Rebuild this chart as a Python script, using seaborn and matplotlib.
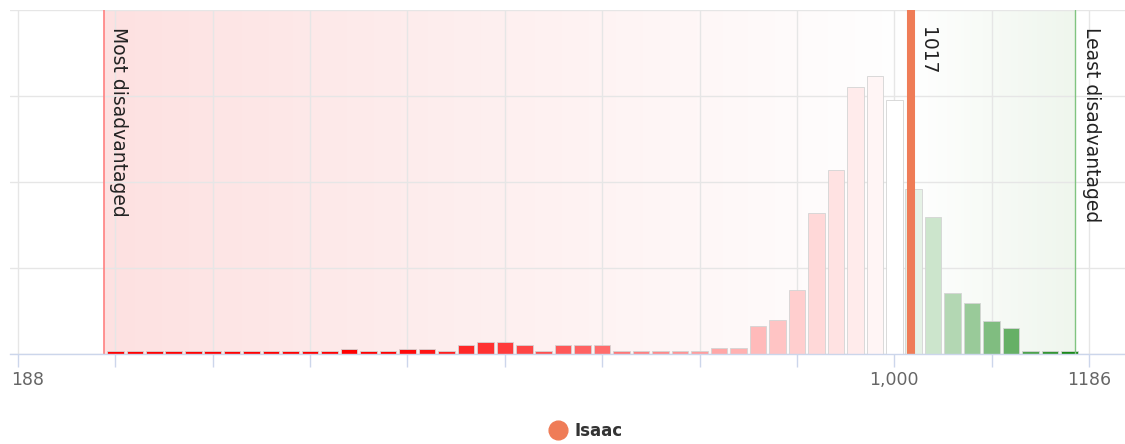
import numpy as np
import pandas as pd
import seaborn as sns
import matplotlib.pyplot as plt
from matplotlib.colors import LinearSegmentedColormap, to_hex
from matplotlib.lines import Line2D
from matplotlib.transforms import ScaledTranslation

sns.set_style('white')
plt.rcParams['font.family'] = ['DejaVu Sans']

# histogram bins (score centres) and bar heights
scores = [200, 220, 240, 260, 280, 300, 320, 340, 360, 380,
          400, 420, 440, 460, 480, 500, 520, 540, 560, 580,
          600, 620, 640, 660, 680, 700, 720, 740, 760, 780,
          800, 820, 840, 860, 880, 900, 920, 940, 960, 980,
          1000, 1020, 1040, 1060, 1080, 1100, 1120, 1140, 1160, 1180]
shares = [0.33, 0.33, 0.33, 0.33, 0.33, 0.33, 0.33, 0.33, 0.33, 0.33,
          0.33, 0.33, 0.6, 0.33, 0.33, 0.6, 0.6, 0.33, 1.0, 1.35,
          1.35, 1.0, 0.33, 1.0, 1.0, 1.05, 0.33, 0.33, 0.33, 0.33,
          0.33, 0.7, 0.7, 3.2, 3.9, 7.5, 16.4, 21.4, 31.0, 32.3,
          29.5, 19.2, 15.9, 7.1, 5.9, 3.8, 3.0, 0.33, 0.33, 0.33]

score_min = 188
score_max = 1186
student_name = 'Isaac'
student_score = 1017
tick_values = [100, 200, 300, 400, 500, 600, 700, 800, 900, 1000, 1100, 1200]
tick_labels = ['188', '', '', '', '', '', '', '', '', '1,000', '', '1186']

ORANGE = '#ef7c57'


def bar_color(v):
    red = np.array([255, 0, 0]) / 255
    green = np.array([18, 132, 18]) / 255
    white = np.ones(3)
    if v <= 1000:
        t = np.clip((v - 480) / (1000 - 480), 0, 1)
        c = red + (white - red) * t
    else:
        t = np.clip((v - 1000) / (score_max - 1000), 0, 1)
        c = white + (green - white) * t
    return to_hex(c)


df = pd.DataFrame({'score': scores, 'share': shares})
df['bin'] = df['score'].astype(str)
palette = {b: bar_color(s) for b, s in zip(df['bin'], df['score'])}

fig = plt.figure(figsize=(11.25, 4.44), dpi=100)
ax = fig.add_axes([10 / 1125, 1 - 354 / 444, 1115 / 1125, 344 / 444])

# background band: red fading to white, then white to pale green
band = LinearSegmentedColormap.from_list(
    'band', [(0, '#fde1e1'),
             ((student_score - score_min) / (score_max - score_min), '#ffffff'),
             (1, '#eff6ed')])
ax.imshow(np.linspace(0, 1, 400).reshape(1, -1), cmap=band, aspect='auto',
          extent=[score_min, score_max, 0, 40], zorder=0)

sns.barplot(data=df, x='score', y='share', hue='bin', palette=palette,
            native_scale=True, width=0.85, errorbar=None, legend=False,
            saturation=1, edgecolor='#d4d4d4', linewidth=0.6, ax=ax,
            zorder=2)

ax.axvline(score_min, color='#ff8080', lw=1.2, zorder=3)
ax.axvline(score_max, color='#80c480', lw=1.0, zorder=3)
ax.axvline(student_score, color=ORANGE, lw=5.8, zorder=5)

ax.text(score_min + 5, 38.0, 'Most disadvantaged', rotation=-90,
        ha='left', va='top', fontsize=13.5, color='#222222', zorder=6)
ax.text(score_max + 7, 38.0, 'Least disadvantaged', rotation=-90,
        ha='left', va='top', fontsize=13.5, color='#222222', zorder=6)
ax.text(student_score + 7, 38.0, str(student_score), rotation=-90,
        ha='left', va='top', fontsize=13.5, color='#222222', zorder=6)

ax.set_xlim(91.8, 1237)
ax.set_ylim(0, 40)
ax.set_xticks(tick_values)
ax.set_xticklabels(tick_labels)
ax.set_yticks([0, 10, 20, 30, 40])
ax.set_yticklabels([])
ax.set_xlabel('')
ax.set_ylabel('')
ax.set_axisbelow(True)
ax.grid(True, color='#e6e6e6', lw=1)
ax.tick_params(axis='x', bottom=True, direction='out', colors='#ccd6eb',
               length=9.5, width=1, pad=3, labelsize=12.5,
               labelcolor='#666666')
ax.tick_params(axis='y', length=0)
for side in ['top', 'left', 'right']:
    ax.spines[side].set_visible(False)
ax.spines['bottom'].set_color('#ccd6eb')
ax.spines['bottom'].set_linewidth(1)
ax.spines['bottom'].set_zorder(6)

# first label is pushed right so it stays inside the chart
first = ax.get_xticklabels()[0]
first.set_horizontalalignment('left')
first.set_transform(first.get_transform() +
                    ScaledTranslation(-0.07, 0, fig.dpi_scale_trans))

handle = Line2D([0], [0], marker='o', ls='', color=ORANGE, markersize=13.5)
fig.legend(handles=[handle], labels=[student_name], loc='center',
           bbox_to_anchor=(0.521, 1 - 431 / 444), frameon=False,
           prop={'weight': 'bold', 'size': 12}, labelcolor='#333333',
           handlelength=1.0, handletextpad=0.5)

fig.savefig('out.png', dpi=100)
